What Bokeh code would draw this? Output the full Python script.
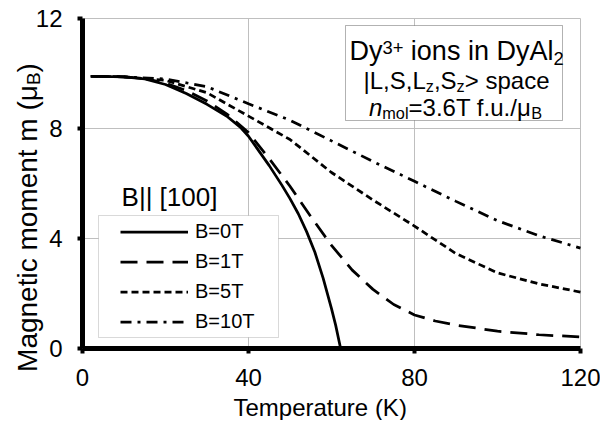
import math
from bokeh.plotting import figure
from bokeh.models import Range1d, FixedTicker, Label, BoxAnnotation, Legend, LegendItem, LinearAxis
from bokeh.embed import file_html
from bokeh.resources import INLINE

# ---------------- data ----------------
T_0T = [2, 10, 15, 20, 25, 30, 35, 38, 40, 45, 48, 50, 52, 54, 56, 58, 60, 61, 62.2]
m_0T = [9.9, 9.88, 9.8, 9.6, 9.27, 8.88, 8.42, 8.05, 7.72, 6.65, 5.95, 5.45, 4.9, 4.25, 3.5, 2.55, 1.45, 0.85, 0.0]

T_1T = [2, 10, 15, 20, 25, 30, 35, 40, 45, 50, 55, 60, 65, 70, 75, 80, 85, 90, 100, 110, 120]
m_1T = [9.9, 9.88, 9.82, 9.65, 9.38, 9.0, 8.5, 7.85, 6.9, 5.9, 4.8, 3.75, 2.85, 2.15, 1.6, 1.22, 1.0, 0.85, 0.63, 0.5, 0.42]

T_5T = [2, 10, 20, 30, 40, 50, 60, 70, 80, 90, 100, 110, 120]
m_5T = [9.9, 9.88, 9.75, 9.3, 8.45, 7.6, 6.4, 5.4, 4.45, 3.45, 2.75, 2.35, 2.05]

T_10T = [2, 10, 20, 30, 40, 50, 60, 70, 80, 90, 100, 110, 120]
m_10T = [9.9, 9.88, 9.8, 9.52, 8.9, 8.3, 7.55, 6.8, 6.08, 5.35, 4.65, 4.1, 3.65]

series_labels = ["B=0T", "B=1T", "B=5T", "B=10T"]
x_ticks = [0, 40, 80, 120]
y_ticks = [0, 4, 8, 12]

# ---------------- layout (page pixels) ----------------
FONT = "Liberation Sans"
FX0, FY0 = 82, 18          # page position of the plot area's top-left corner
FW, FH = 498, 330          # plot area size
X_MAX, Y_MAX = 120, 12
OX, OY = 0, 0              # page position of the canvas (the page template has no body margin)
CW, CH = 600, 420          # canvas size
BASE_FIX = 0.26            # the svg text baseline sits this many em lower than asked


def dx(px):
    return (px - FX0) * X_MAX / FW


def dy(py):
    return (FY0 + FH - py) * Y_MAX / FH


p = figure(width=CW, height=CH,
           x_range=Range1d(dx(OX), dx(OX + CW)), y_range=Range1d(dy(OY + CH), dy(OY)),
           output_backend="svg", toolbar_location=None,
           x_axis_location=None, y_axis_location=None,
           min_border=0)
p.outline_line_color = None
p.background_fill_color = "white"
p.border_fill_color = "white"
p.xgrid.visible = False
p.ygrid.visible = False

# grid lines at the tick positions, limited to the plot area
p.segment(x0=x_ticks[1:], x1=x_ticks[1:], y0=[y_ticks[0]] * 3, y1=[y_ticks[-1]] * 3,
          line_color="#bfbfbf", line_width=1)
p.segment(x0=[x_ticks[0]] * 3, x1=[x_ticks[-1]] * 3, y0=y_ticks[1:], y1=y_ticks[1:],
          line_color="#bfbfbf", line_width=1)

r0 = p.line(T_0T, m_0T, line_color="black", line_width=2.75)
r1 = p.line(T_1T, m_1T, line_color="black", line_width=2.75, line_dash="17 9")
r5 = p.line(T_5T, m_5T, line_color="black", line_width=2.75, line_dash="7 4")
r10 = p.line(T_10T, m_10T, line_color="black", line_width=2.75, line_dash="11 6 3 6")

xax = LinearAxis(fixed_location=0, bounds=(0, X_MAX), ticker=FixedTicker(ticks=x_ticks))
yax = LinearAxis(fixed_location=0, bounds=(0, Y_MAX), ticker=FixedTicker(ticks=y_ticks))
for ax in (xax, yax):
    ax.axis_line_width = 5
    ax.axis_line_color = "black"
    ax.major_tick_line_width = 4
    ax.major_tick_line_color = "black"
    ax.major_tick_out = 5
    ax.major_tick_in = 0
    ax.minor_tick_line_color = None
    ax.major_label_text_font = FONT
    ax.major_label_text_font_size = "24px"
    ax.major_label_text_color = "black"
yax.major_label_standoff = 15
xax.major_label_standoff = 15
p.add_layout(xax, "below")
p.add_layout(yax, "left")

# legend frame
p.add_layout(BoxAnnotation(left=dx(98), right=dx(278), top=dy(215), bottom=dy(337),
                           fill_color="white", fill_alpha=1.0,
                           line_color="#808080", line_width=1))

legend = Legend(items=[LegendItem(label=lab, renderers=[r]) for lab, r in
                       zip(series_labels, [r0, r1, r5, r10])],
                location=(120 - OX, OY + CH - 334.5), padding=0, margin=0, spacing=3,
                glyph_width=68, glyph_height=27, label_height=27, label_standoff=7,
                label_text_font=FONT, label_text_font_size="20px",
                label_text_color="black",
                background_fill_alpha=0, border_line_alpha=0)
p.add_layout(legend)

# annotation box
p.add_layout(BoxAnnotation(left=dx(345), right=dx(562), top=dy(25), bottom=dy(120),
                           fill_color="white", fill_alpha=1.0,
                           line_color="black", line_width=1))

# ---------------- rich text helper ----------------
W = {' ': 278, '(': 333, ')': 333, '+': 584, ',': 278, '.': 278, '/': 278,
     '=': 584, '>': 584, '[': 278, ']': 278, '|': 260, 'μ': 576,
     'A': 667, 'B': 667, 'D': 722, 'K': 667, 'L': 556, 'M': 833, 'S': 667, 'T': 611,
     'a': 556, 'c': 500, 'e': 556, 'f': 278, 'g': 556, 'i': 222, 'l': 222, 'm': 833,
     'n': 556, 'o': 556, 'p': 556, 'r': 333, 's': 500, 't': 278, 'u': 556, 'y': 500, 'z': 500}


def tw(text, size):
    return sum(W.get(ch, 556) for ch in text) * size / 1000.0


def rich(segments, center, baseline, rotated=False):
    total = sum(tw(t, s) for t, s, _, _ in segments)
    pos = center - total / 2.0 if not rotated else center + total / 2.0
    sign = -1 if rotated else 1
    for t, s, shift, style in segments:
        stripped = t.lstrip(" ")
        pos += sign * tw(t[:len(t) - len(stripped)], s)
        up = shift + BASE_FIX * s
        if not rotated:
            x, y, ang = dx(pos), dy(baseline - up), 0.0
        else:
            x, y, ang = dx(baseline - up), dy(pos), math.pi / 2
        pos += sign * tw(stripped, s)
        p.add_layout(Label(x=x, y=y, text=stripped, angle=ang, text_font=FONT,
                           text_font_size=f"{s:.1f}px", text_font_style=style,
                           text_align="left", text_baseline="alphabetic",
                           text_color="black"))


N1, N2 = 27, 24
SUP, SUB = 0.68, 0.68
rich([("Dy", N1, 0, "normal"), ("3+", N1 * SUP, N1 * 0.24, "normal"),
      (" ions in DyAl", N1, 0, "normal"), ("2", N1 * SUB, -N1 * 0.16, "normal")], 456, 58)
rich([("|L,S,L", N2, 0, "normal"), ("z", N2 * SUB, -N2 * 0.14, "normal"),
      (",S", N2, 0, "normal"), ("z", N2 * SUB, -N2 * 0.14, "normal"),
      ("> space", N2, 0, "normal")], 456, 86)
rich([("n", N2, 0, "italic"), ("mol", N2 * SUB, -N2 * 0.14, "normal"),
      ("=3.6T f.u./μ", N2, 0, "normal"), ("B", N2 * SUB, -N2 * 0.14, "normal")], 455, 113)

# legend title
rich([("B|| [100]", 26, 0, "normal")], 169, 203)

# axis titles
rich([("Temperature (K)", 24, 0, "normal")], 321, 413)
rich([("Magnetic moment m (μ", 28, 0, "normal"), ("B", 28 * SUB, -28 * 0.14, "normal"),
      (")", 28, 0, "normal")], 217, 34, rotated=True)

open("out.html", "w").write(file_html(p, INLINE))
